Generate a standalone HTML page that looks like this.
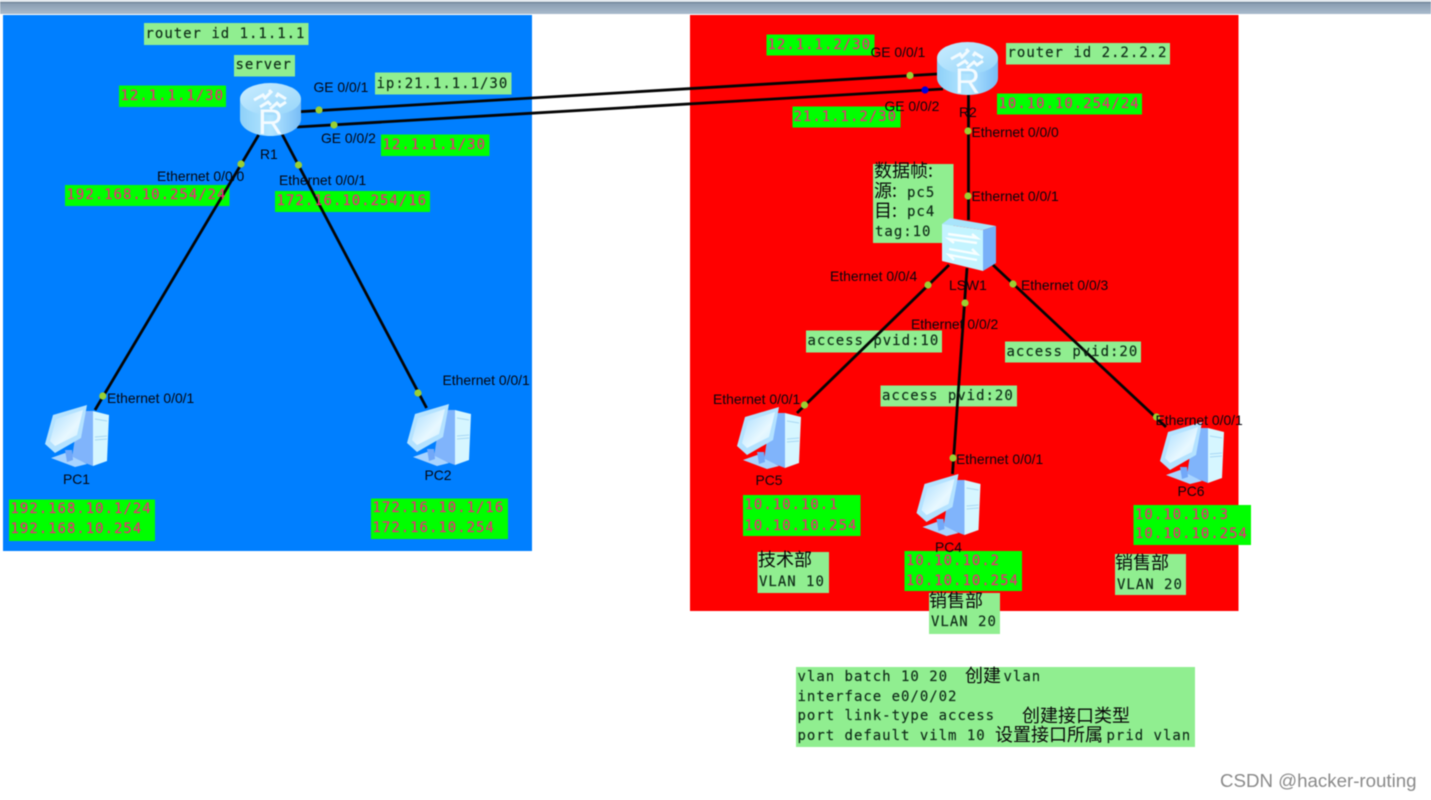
<!DOCTYPE html>
<html><head><meta charset="utf-8"><style>
html,body{margin:0;padding:0;background:#fff;width:1431px;height:800px;overflow:hidden}
svg{display:block;filter:blur(.45px)}
.m{font-family:"DejaVu Sans Mono","Liberation Mono",monospace;font-size:14px;letter-spacing:.98px;fill:#0f2c18;stroke:#0f2c18;stroke-width:.15}
.p{font-family:"DejaVu Sans Mono","Liberation Mono",monospace;font-size:14px;letter-spacing:.98px;fill:#f0287a;stroke:#f0287a;stroke-width:.15}
.s{font-family:"Liberation Sans",sans-serif;font-size:13.9px;fill:#06060e}
.c{font-family:"Noto Sans CJK SC","WenQuanYi Zen Hei",sans-serif;font-size:18px;fill:#080808}
.lg{fill:#90ee90}.g{fill:#00ff00}
.l{stroke:#050505;stroke-width:2.8;fill:none}
.d{fill:#9ad032}
</style></head><body>
<svg width="1431" height="800" viewBox="0 0 1431 800" xmlns="http://www.w3.org/2000/svg">
<defs>
<linearGradient id="bar" x1="0" y1="0" x2="0" y2="1"><stop offset="0" stop-color="#7f93a8"/><stop offset="1" stop-color="#a9bbcd"/></linearGradient>
<linearGradient id="cyl" x1="0" y1="0" x2="1" y2="0"><stop offset="0" stop-color="#8ed0f8"/><stop offset=".5" stop-color="#b4e6ff"/><stop offset="1" stop-color="#78bcf6"/></linearGradient>
<linearGradient id="top" x1="0" y1="0" x2="1" y2="1"><stop offset="0" stop-color="#c8ecff"/><stop offset="1" stop-color="#98d6fa"/></linearGradient>
<linearGradient id="scr" x1="0" y1="0" x2="1" y2="1"><stop offset="0" stop-color="#a8dcff"/><stop offset=".6" stop-color="#e8f8ff"/><stop offset="1" stop-color="#c8ecff"/></linearGradient>
<g id="router">
<path d="M0 17V37C0 46 13 54 30.500 54S61 46 61 37V17Z" fill="url(#cyl)"/>
<ellipse cx="30.500" cy="17" rx="30.500" ry="16" fill="url(#top)"/>
<path d="M14 18l9-5 2 3 6-6-2-2M46 17l-8-5-2 3M20 25l8-5 3 3M30 27l7-6 3 3 6-4" stroke="#f2fbff" stroke-width="3" fill="none"/>
<text x="30.500" y="52" text-anchor="middle" style="font-family:'Liberation Sans',sans-serif;font-size:35px" fill="#f4fbff">R</text>
</g>
<g id="sw">
<polygon points="0,6 8,0 54,8 41,12" fill="#a8e4fb"/>
<polygon points="0,6 41,12 41,53 0,43" fill="#c4f4ff"/>
<polygon points="41,12 54,8 54,45 41,53" fill="#78b0f8"/>
<path d="M6 16l29 4-5-4M35 25l-28-4 5 4M7 31l28 5-5-5M35 42l-28-5 5 5" stroke="#f8feff" stroke-width="2.400" fill="none"/>
</g>
<g id="pc">
<polygon points="41,7 30,34 27,54 48,62 48,7" fill="#80b4fb"/>
<polygon points="48,7 64,11 62,57 48,62" fill="#d6f6ff"/>
<path d="M50 15l12 2M50 33l12-1M50 36l12-1" stroke="#a8d8f4" stroke-width="1"/>
<polygon points="6,54 20,49 24,50 26,52 42,60 30,63" fill="#a8d4ff"/>
<polygon points="20,46 27,46 28,56 22,58" fill="#72a8f8"/>
<polygon points="0,40 8,11 42,1 36,34 10,49" fill="#b4e2ff"/>
<polygon points="5,37 11,15 38,6 32,31 10,42" fill="url(#scr)"/>
</g>
</defs>

<rect x="0" y="0" width="1431" height="14" fill="url(#bar)"/>
<rect x="0" y="0" width="1431" height="2" fill="#dfe6ec"/>
<rect x="0" y="2" width="1431" height="1" fill="#667b90"/>
<rect x="3" y="15" width="529" height="536" fill="#007fff"/>
<rect x="690" y="15" width="548.500" height="596" fill="#ff0000"/>

<!-- boxes -->
<rect class="lg" x="144" y="23" width="164.500" height="22"/>
<rect class="lg" x="234" y="55" width="61" height="21.500"/>
<rect class="g" x="119" y="85.500" width="107" height="21.500"/>
<rect class="lg" x="375" y="72.500" width="136.500" height="22"/>
<rect class="g" x="381" y="134.500" width="108.500" height="21.500"/>
<rect class="g" x="65" y="185" width="164.500" height="21"/>
<rect class="g" x="275" y="191" width="155" height="21"/>
<rect class="g" x="9" y="499.500" width="146" height="41.500"/>
<rect class="g" x="371" y="498.500" width="137" height="40.500"/>
<rect class="g" x="766.500" y="34.500" width="108" height="21"/>
<rect class="lg" x="1006" y="43" width="164" height="21.500"/>
<rect class="g" x="997" y="93.500" width="145" height="21"/>
<rect class="g" x="792.500" y="106.500" width="108" height="21"/>
<rect class="lg" x="873" y="164" width="80.500" height="79"/>
<rect class="lg" x="806" y="330.500" width="136" height="22"/>
<rect class="lg" x="1005" y="341.500" width="136" height="21"/>
<rect class="lg" x="880.500" y="385.500" width="136.500" height="21"/>
<rect class="g" x="743" y="495" width="117.500" height="41"/>
<rect class="lg" x="757.500" y="552" width="71.500" height="41"/>
<rect class="lg" x="929" y="593" width="71" height="41"/>
<rect class="g" x="904.500" y="551" width="117.500" height="40"/>
<rect class="g" x="1133.500" y="505" width="117.500" height="40"/>
<rect class="lg" x="1115" y="554" width="71" height="41"/>
<rect class="lg" x="796" y="667" width="399" height="80"/>

<!-- connectors -->
<path class="l" d="M300 111.700L937 74"/>
<path class="l" d="M297 127L943 89"/>
<path class="l" d="M258.600 135L95 410"/>
<path class="l" d="M282 134L426.600 408"/>
<path class="l" d="M968.500 95V220"/>
<path class="l" d="M949 265L797 413"/>
<path class="l" d="M967 268L952.500 474"/>
<path class="l" d="M993 265L1166 427"/>

<!-- icons -->
<use href="#router" x="240" y="82"/>
<use href="#router" x="937" y="41"/>
<use href="#sw" x="942" y="218"/>
<use href="#pc" x="45" y="404"/>
<use href="#pc" x="407" y="403"/>
<use href="#pc" x="737" y="406"/>
<use href="#pc" x="916.500" y="473"/>
<use href="#pc" x="1160" y="421"/>

<!-- dots -->
<circle class="d" cx="319" cy="110" r="3.600"/>
<circle class="d" cx="334" cy="125" r="3.600"/>
<circle class="d" cx="241" cy="164" r="3.600"/>
<circle class="d" cx="298.500" cy="165" r="3.600"/>
<circle class="d" cx="102.800" cy="396" r="3.600"/>
<circle class="d" cx="418" cy="393" r="3.600"/>
<circle class="d" cx="910" cy="75.500" r="3.600"/>
<circle cx="925" cy="90" r="3.600" fill="#0000e0"/>
<circle class="d" cx="968" cy="131" r="3.600"/>
<circle class="d" cx="968" cy="196" r="3.600"/>
<circle class="d" cx="928" cy="285" r="3.600"/>
<circle class="d" cx="1013" cy="284" r="3.600"/>
<circle class="d" cx="965" cy="303" r="3.600"/>
<circle class="d" cx="804.500" cy="405" r="3.600"/>
<circle class="d" cx="953" cy="458" r="3.600"/>
<circle class="d" cx="1156.500" cy="417" r="3.600"/>

<!-- mono labels -->
<text class="m" x="145.500" y="38">router id 1.1.1.1</text>
<text class="m" x="235.500" y="69">server</text>
<text class="p" x="120.500" y="100">12.1.1.1/30</text>
<text class="m" x="376.500" y="88">ip:21.1.1.1/30</text>
<text class="p" x="382.500" y="149">12.1.1.1/30</text>
<text class="p" x="66.500" y="199">192.168.10.254/24</text>
<text class="p" x="276.500" y="205">172.16.10.254/16</text>
<text class="p" x="10.500" y="513">192.168.10.1/24</text>
<text class="p" x="10.500" y="533">192.168.10.254</text>
<text class="p" x="372.500" y="512">172.16.10.1/16</text>
<text class="p" x="372.500" y="532">172.16.10.254</text>
<text class="p" x="767.500" y="49">12.1.1.2/30</text>
<text class="m" x="1007.500" y="57">router id 2.2.2.2</text>
<text class="p" x="998.500" y="108">10.10.10.254/24</text>
<text class="p" x="793.500" y="121">21.1.1.2/30</text>
<text class="m" x="807.500" y="345">access pvid:10</text>
<text class="m" x="1006.500" y="356">access pvid:20</text>
<text class="m" x="882" y="400">access pvid:20</text>
<text class="p" x="744.500" y="509">10.10.10.1</text>
<text class="p" x="744.500" y="530">10.10.10.254</text>
<text class="p" x="906" y="565">10.10.10.2</text>
<text class="p" x="906" y="585">10.10.10.254</text>
<text class="p" x="1135" y="519">10.10.10.3</text>
<text class="p" x="1135" y="538">10.10.10.254</text>

<text class="c" x="874" y="177">数据帧:</text>
<text class="c" x="874" y="197">源:<tspan class="m" x="907" y="197">pc5</tspan></text>
<text class="c" x="874" y="217">目:<tspan class="m" x="907" y="216">pc4</tspan></text>
<text class="m" x="875" y="236">tag:10</text>

<text class="c" x="758" y="566">技术部</text><text class="m" x="759" y="586">VLAN 10</text>
<text class="c" x="929" y="607">销售部</text><text class="m" x="931" y="626">VLAN 20</text>
<text class="c" x="1115" y="569">销售部</text><text class="m" x="1117" y="589">VLAN 20</text>

<text class="m" x="797.500" y="681">vlan batch 10 20</text><text class="c" x="965" y="682">创建</text><text class="m" x="1003.500" y="681">vlan</text>
<text class="m" x="797.500" y="701">interface e0/0/02</text>
<text class="m" x="797.500" y="720">port link-type access</text><text class="c" x="1022" y="722">创建接口类型</text>
<text class="m" x="797.500" y="740">port default vilm 10</text><text class="c" x="995" y="741">设置接口所属</text><text class="m" x="1106.500" y="740">prid vlan</text>

<!-- sans labels -->
<text class="s" x="313.500" y="92">GE 0/0/1</text>
<text class="s" x="321" y="143">GE 0/0/2</text>
<text class="s" x="157" y="181">Ethernet 0/0/0</text>
<text class="s" x="279" y="185">Ethernet 0/0/1</text>
<text class="s" x="260" y="159">R1</text>
<text class="s" x="107" y="403">Ethernet 0/0/1</text>
<text class="s" x="63" y="484">PC1</text>
<text class="s" x="442.500" y="385">Ethernet 0/0/1</text>
<text class="s" x="424.500" y="480">PC2</text>
<text class="s" x="870.500" y="57">GE 0/0/1</text>
<text class="s" x="884.500" y="111">GE 0/0/2</text>
<text class="s" x="959" y="117">R2</text>
<text class="s" x="971.500" y="137">Ethernet 0/0/0</text>
<text class="s" x="971.500" y="201">Ethernet 0/0/1</text>
<text class="s" x="830" y="281">Ethernet 0/0/4</text>
<text class="s" x="949" y="290">LSW1</text>
<text class="s" x="1021" y="290">Ethernet 0/0/3</text>
<text class="s" x="911" y="329">Ethernet 0/0/2</text>
<text class="s" x="713" y="404">Ethernet 0/0/1</text>
<text class="s" x="755.500" y="485">PC5</text>
<text class="s" x="956" y="464">Ethernet 0/0/1</text>
<text class="s" x="935" y="552">PC4</text>
<text class="s" x="1155.500" y="425">Ethernet 0/0/1</text>
<text class="s" x="1177.500" y="496">PC6</text>

<text x="1220" y="787" style="font-family:'Liberation Sans',sans-serif;font-size:18.7px" fill="#8a8a8a">CSDN @hacker-routing</text>
</svg>
</body></html>
